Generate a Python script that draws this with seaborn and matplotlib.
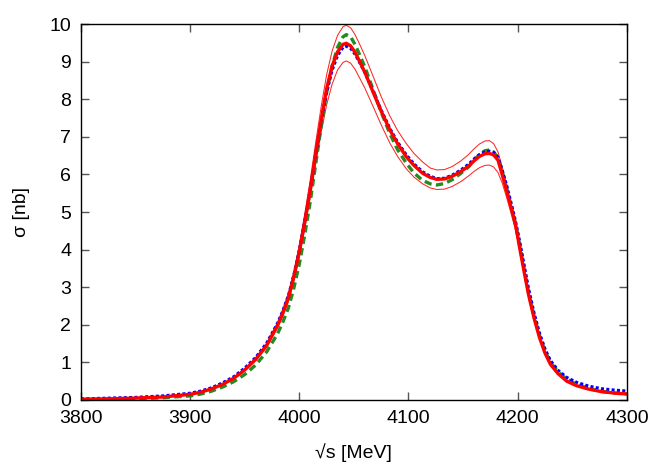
import numpy as np
import pandas as pd
import matplotlib
matplotlib.use("Agg")
import matplotlib.pyplot as plt
import seaborn as sns

# ============================================================
# DATA
# ============================================================
sqrt_s = [3800, 3825, 3850, 3875, 3900, 3910, 3920, 3930, 3940, 3950,
          3960, 3970, 3980, 3985, 3990, 3995, 4000, 4005, 4010, 4015,
          4020, 4025, 4030, 4035, 4040, 4043, 4047, 4051, 4055, 4060,
          4068, 4075, 4083, 4090, 4098, 4105, 4113, 4120, 4126, 4133,
          4140, 4148, 4155, 4160, 4165, 4170, 4174, 4178, 4182, 4186,
          4190, 4194, 4198, 4202, 4206, 4210, 4215, 4220, 4225, 4230,
          4237, 4245, 4254, 4265, 4277, 4290, 4300]

sigma_central = [0.02, 0.03, 0.05, 0.08, 0.15, 0.21, 0.30, 0.42, 0.58, 0.80,
                 1.08, 1.45, 1.98, 2.32, 2.72, 3.28, 3.95, 4.75, 5.60, 6.55,
                 7.45, 8.28, 8.88, 9.26, 9.46, 9.49, 9.42, 9.25, 9.02, 8.72,
                 8.16, 7.68, 7.18, 6.82, 6.47, 6.24, 6.03, 5.92, 5.87, 5.88,
                 5.95, 6.08, 6.22, 6.36, 6.48, 6.55, 6.56, 6.52, 6.38, 5.98,
                 5.55, 5.12, 4.68, 4.02, 3.40, 2.80, 2.18, 1.66, 1.25, 0.95,
                 0.70, 0.50, 0.38, 0.29, 0.22, 0.18, 0.16]

sigma_upper = [0.02, 0.03, 0.05, 0.08, 0.15, 0.21, 0.31, 0.43, 0.60, 0.83,
               1.12, 1.51, 2.06, 2.42, 2.84, 3.42, 4.12, 4.95, 5.85, 6.85,
               7.80, 8.65, 9.28, 9.70, 9.93, 9.97, 9.90, 9.72, 9.48, 9.16,
               8.58, 8.07, 7.55, 7.17, 6.82, 6.56, 6.33, 6.17, 6.12, 6.13,
               6.21, 6.36, 6.53, 6.68, 6.81, 6.89, 6.90, 6.82, 6.60, 6.18,
               5.70, 5.18, 4.72, 4.04, 3.40, 2.80, 2.18, 1.66, 1.25, 0.95,
               0.70, 0.50, 0.38, 0.29, 0.22, 0.18, 0.16]

sigma_lower = [0.02, 0.03, 0.05, 0.08, 0.15, 0.21, 0.30, 0.41, 0.57, 0.78,
               1.05, 1.40, 1.92, 2.24, 2.62, 3.16, 3.80, 4.56, 5.38, 6.28,
               7.12, 7.85, 8.40, 8.78, 8.98, 9.02, 8.96, 8.80, 8.58, 8.30,
               7.78, 7.32, 6.83, 6.48, 6.15, 5.93, 5.75, 5.64, 5.60, 5.61,
               5.68, 5.81, 5.96, 6.08, 6.18, 6.24, 6.25, 6.20, 6.05, 5.76,
               5.38, 4.96, 4.52, 3.98, 3.40, 2.80, 2.18, 1.66, 1.25, 0.95,
               0.70, 0.50, 0.38, 0.29, 0.22, 0.18, 0.16]

sigma_blue = [0.03, 0.05, 0.07, 0.11, 0.18, 0.24, 0.33, 0.46, 0.62, 0.85,
              1.13, 1.51, 2.04, 2.38, 2.78, 3.33, 3.98, 4.77, 5.60, 6.52,
              7.40, 8.18, 8.77, 9.16, 9.38, 9.41, 9.35, 9.20, 8.99, 8.71,
              8.18, 7.71, 7.22, 6.86, 6.52, 6.28, 6.07, 5.95, 5.89, 5.90,
              5.98, 6.12, 6.27, 6.41, 6.53, 6.60, 6.62, 6.59, 6.46, 6.10,
              5.70, 5.24, 4.76, 4.20, 3.58, 2.96, 2.32, 1.78, 1.36, 1.05,
              0.79, 0.60, 0.47, 0.37, 0.30, 0.26, 0.24]

sigma_green = [0.01, 0.02, 0.03, 0.06, 0.11, 0.16, 0.24, 0.35, 0.49, 0.68,
               0.93, 1.28, 1.76, 2.08, 2.45, 2.98, 3.62, 4.40, 5.28, 6.28,
               7.28, 8.18, 8.88, 9.38, 9.66, 9.72, 9.66, 9.46, 9.20, 8.86,
               8.22, 7.66, 7.08, 6.66, 6.30, 6.04, 5.84, 5.75, 5.72, 5.76,
               5.86, 6.03, 6.20, 6.38, 6.53, 6.63, 6.65, 6.60, 6.44, 6.06,
               5.63, 5.16, 4.68, 4.10, 3.48, 2.86, 2.24, 1.72, 1.31, 1.00,
               0.75, 0.55, 0.42, 0.31, 0.23, 0.18, 0.16]

df = pd.DataFrame({'sqrt_s': sqrt_s, 'central': sigma_central, 'upper': sigma_upper,
                   'lower': sigma_lower, 'blue': sigma_blue, 'green': sigma_green})

# ============================================================
# PLOT
# ============================================================
sns.set_style("ticks")
plt.rcParams['font.family'] = ['Liberation Sans', 'DejaVu Sans']
plt.rcParams['font.size'] = 14
plt.rcParams['text.color'] = 'black'
plt.rcParams['axes.labelcolor'] = 'black'

fig = plt.figure(figsize=(6.64, 4.65), dpi=100)
ax = fig.add_axes([0.122, 0.1398, 0.822, 0.8084])

sns.lineplot(data=df, x='sqrt_s', y='upper', ax=ax, color='#ff0000', lw=0.75, alpha=0.85)
sns.lineplot(data=df, x='sqrt_s', y='lower', ax=ax, color='#ff0000', lw=0.75, alpha=0.85)
sns.lineplot(data=df, x='sqrt_s', y='green', ax=ax, color='#228b22', lw=2.4,
             dashes=False, linestyle=(0, (2.2, 1.3)))
sns.lineplot(data=df, x='sqrt_s', y='blue', ax=ax, color='#0000ff', lw=2.2,
             dashes=False, linestyle=(0, (1.0, 0.75)))
sns.lineplot(data=df, x='sqrt_s', y='central', ax=ax, color='#ff0000', lw=2.4)

ax.set_xlim(3800, 4300)
ax.set_ylim(0, 10)
ax.set_xticks(np.arange(3800, 4301, 100))
ax.set_yticks(np.arange(0, 11, 1))
ax.tick_params(direction='in', length=6, width=1, color='#555555',
               top=True, right=True, labelsize=14, pad=7, labelcolor='black')
for sp in ax.spines.values():
    sp.set_linewidth(1.0)
    sp.set_color('black')
    sp.set_visible(True)

ax.set_xlabel('√s [MeV]', fontsize=14, labelpad=12, color='black')
ax.set_ylabel('σ [nb]', fontsize=14, labelpad=14, color='black')

plt.savefig('out.png', dpi=100)
plt.close()
